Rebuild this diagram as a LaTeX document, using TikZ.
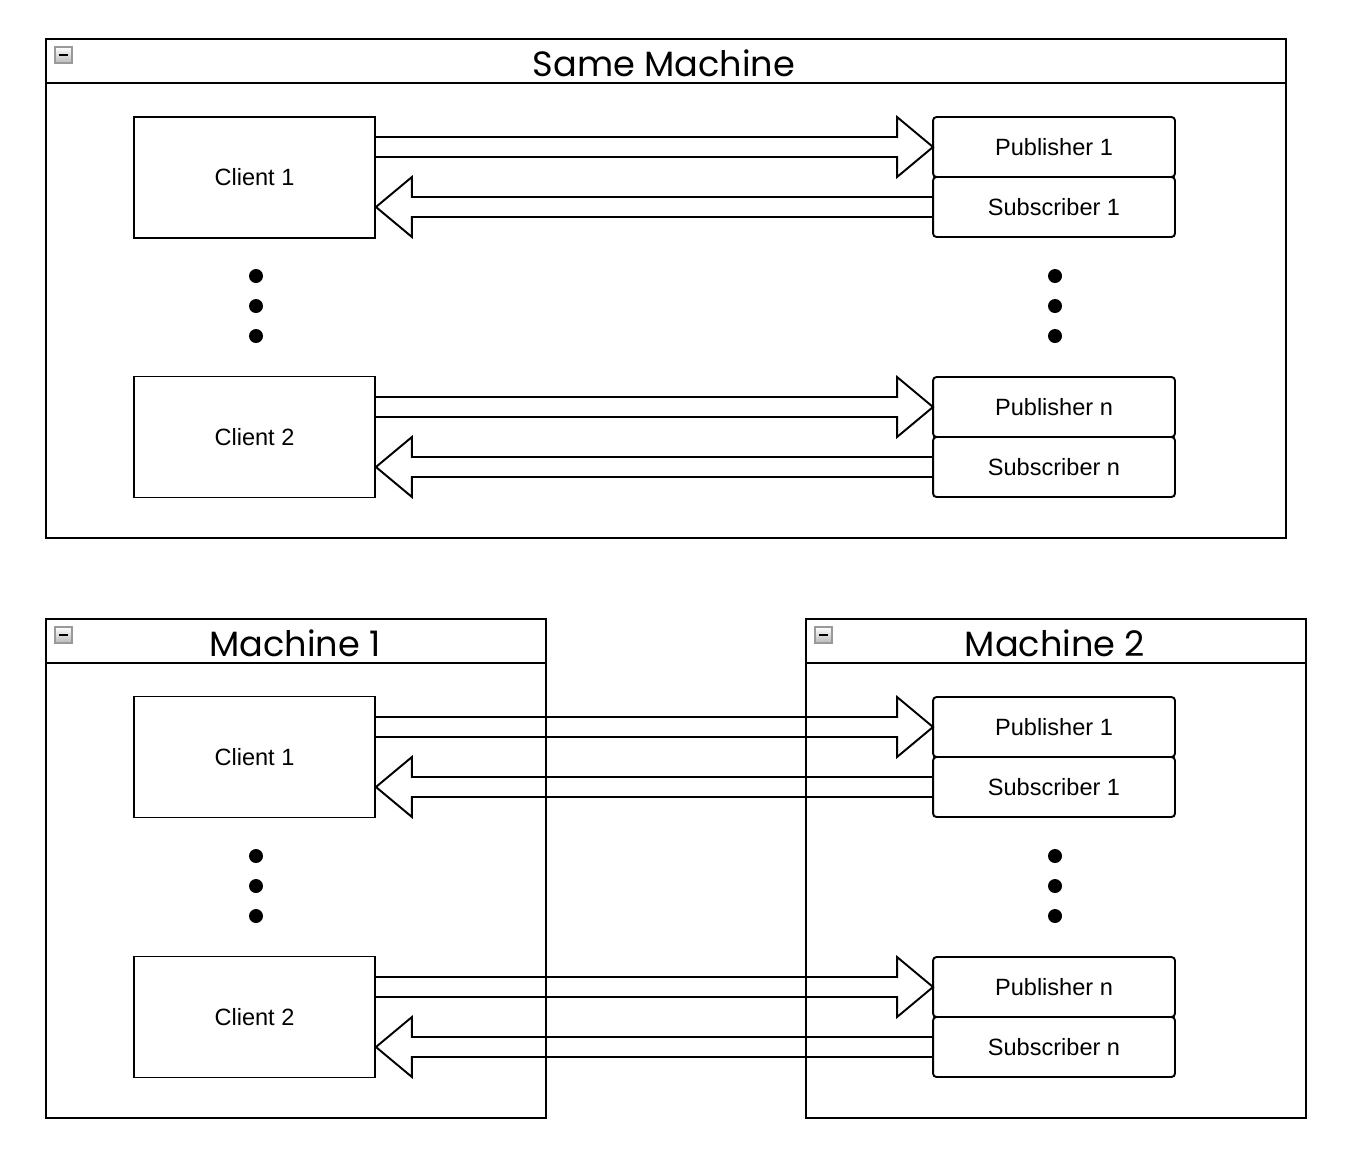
\documentclass[tikz,border=0pt]{standalone}
\usepackage{fontspec}
\setmainfont{Liberation Sans}
\newfontfamily\titlefont{Poppins}
\usetikzlibrary{positioning,calc}
\tikzset{
    machine/.style={draw, line width=1.1pt, anchor=north west, inner sep=0pt, minimum height=9.98cm},
    client/.style={draw, line width=1.1pt, minimum width=4.82cm, minimum height=2.42cm, font=\fontsize{13.4}{16}\selectfont},
    port/.style={draw, line width=1.1pt, outer sep=0pt, minimum width=4.84cm, minimum height=1.2cm, rounded corners=2pt, font=\fontsize{13.4}{16}\selectfont},
    title/.style={font=\titlefont\fontsize{20}{24}\selectfont},
    blockline/.style={line width=1.1pt, line join=miter},
}
% hollow block arrow, #3 = 1 points right, -1 points left
\newcommand{\blockarrow}[3]{
\draw[blockline] ($(#1)+(0,-10)$) -- ($(#2)+(-36*#3,-10)$) -- ($(#2)+(-36*#3,-30)$) -- (#2)
    -- ($(#2)+(-36*#3,30)$) -- ($(#2)+(-36*#3,10)$) -- ($(#1)+(0,10)$);
}
\newcommand{\minbutton}[1]{
\draw[gray!80, line width=0.8pt, top color=white, bottom color=gray!55] ([shift={(10,9)}]#1.north west) rectangle +(17,16);
\draw[line width=1.3pt] ([shift={(14,17)}]#1.north west) -- +(9,0);
}
\newcommand{\titlebar}[1]{
\draw[line width=1.1pt] ([yshift=-0.9cm]#1.north west) -- ([yshift=-0.9cm]#1.north east);
}

\begin{document}
\begin{tikzpicture}[x=0.02cm, y=-0.02cm]
\useasboundingbox (0,0) rectangle (1348,1164);

% containers
\node[machine, minimum width=24.8cm] (same) at (45,38) {};
\node[machine, minimum width=10cm] (mone) at (45,618) {};
\node[machine, minimum width=10cm] (mtwo) at (805,618) {};
\foreach \m in {same,mone,mtwo} {\titlebar{\m} \minbutton{\m}}
\node[title] (tsame) at (664,63) {Same Machine};
\node[title] (tone) at (295,643) {Machine 1};
\node[title] (ttwo) at (1055,643) {Machine 2};

% same machine
\node[client] (c1) at (254.5,177.5) {Client 1};
\node[client] (c2) at (254.5,437) {Client 2};
\node[port] (p1) at (1054,147) {Publisher 1};
\node[port, below=0pt of p1] (s1) {Subscriber 1};
\node[port] (pn) at (1054,407) {Publisher n};
\node[port, below=0pt of pn] (sn) {Subscriber n};

% two machines
\node[client] (d1) at (254.5,757) {Client 1};
\node[client] (d2) at (254.5,1017) {Client 2};
\node[port] (q1) at (1054,727) {Publisher 1};
\node[port, below=0pt of q1] (r1) {Subscriber 1};
\node[port] (qn) at (1054,987) {Publisher n};
\node[port, below=0pt of qn] (rn) {Subscriber n};

% arrows
\foreach \c/\p/\s in {c1/p1/s1,c2/pn/sn,d1/q1/r1,d2/qn/rn} {
\blockarrow{\c.east |- \p.west}{\p.west}{1}
\blockarrow{\s.west}{\c.east |- \s.west}{-1}
}

% dots
\foreach \y in {276,306,336,856,886,916} {
\fill (256,\y) circle[radius=0.14cm];
\fill (1055,\y) circle[radius=0.14cm];
}
\end{tikzpicture}
\end{document}
